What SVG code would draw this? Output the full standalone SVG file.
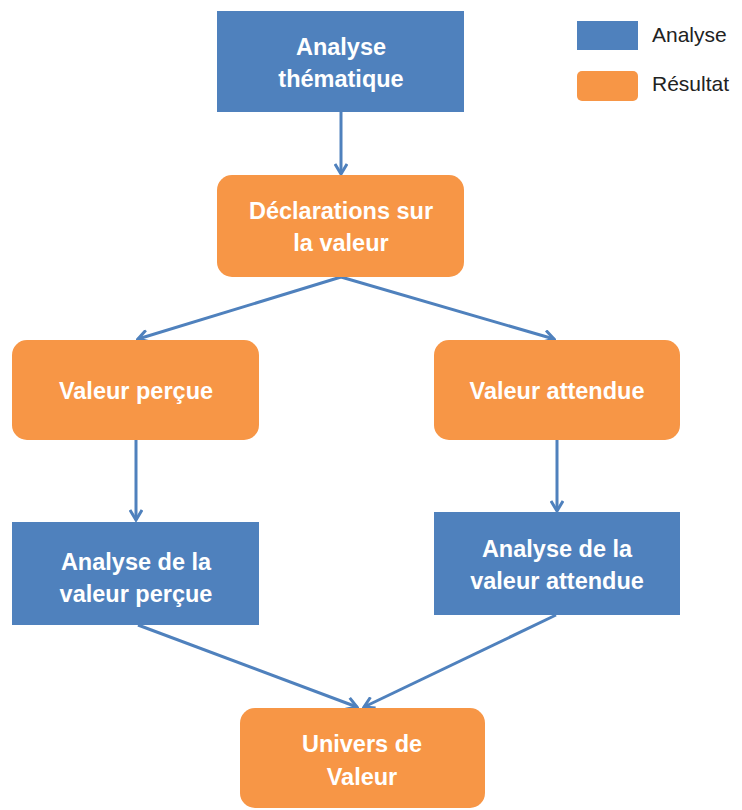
<svg xmlns="http://www.w3.org/2000/svg" width="742" height="810" viewBox="0 0 742 810">
<style>
.a{fill:#4F81BD}
.r{fill:#F79646}
.t{font-family:"Liberation Sans",Arial,sans-serif;font-weight:bold;font-size:23.5px;fill:#fff;text-anchor:middle}
.l{font-family:"Liberation Sans",Arial,sans-serif;font-size:21px;fill:#222}
.c{stroke:#4F81BD;stroke-width:3;fill:none;marker-end:url(#ah)}
</style>
<defs>
<marker id="ah" viewBox="0 0 14 14" refX="12" refY="7" markerWidth="14" markerHeight="14" markerUnits="userSpaceOnUse" orient="auto">
<path d="M2,1 L12,7 L2,13" fill="none" stroke="#4F81BD" stroke-width="3"/>
</marker>
</defs>
<rect width="742" height="810" fill="#fff"/>
<g id="connectors">
<line class="c" x1="341" y1="112" x2="341" y2="174"/>
<line class="c" x1="341" y1="277" x2="138" y2="339"/>
<line class="c" x1="341" y1="277" x2="554" y2="339"/>
<line class="c" x1="136" y1="440" x2="136" y2="520"/>
<line class="c" x1="557" y1="440" x2="557" y2="511"/>
<line class="c" x1="138" y1="625" x2="357" y2="707"/>
<line class="c" x1="556" y1="615" x2="364" y2="707"/>
</g>
<g id="n1"><rect class="a" x="217" y="11" width="247" height="101"/><text class="t" x="341" y="55">Analyse</text><text class="t" x="341" y="87">thématique</text></g>
<g id="n2"><rect class="r" x="217" y="175" width="247" height="102" rx="15"/><text class="t" x="341" y="219">Déclarations sur</text><text class="t" x="341" y="251">la valeur</text></g>
<g id="n3"><rect class="r" x="12" y="340" width="247" height="100" rx="15"/><text class="t" x="136" y="399">Valeur perçue</text></g>
<g id="n4"><rect class="r" x="434" y="340" width="246" height="100" rx="15"/><text class="t" x="557" y="399">Valeur attendue</text></g>
<g id="n5"><rect class="a" x="12" y="522" width="247" height="103"/><text class="t" x="136" y="570">Analyse  de la</text><text class="t" x="136" y="602">valeur perçue</text></g>
<g id="n6"><rect class="a" x="434" y="512" width="246" height="103"/><text class="t" x="557" y="557">Analyse  de la</text><text class="t" x="557" y="589">valeur attendue</text></g>
<g id="n7"><rect class="r" x="240" y="708" width="245" height="100" rx="15"/><text class="t" x="362" y="752">Univers de</text><text class="t" x="362" y="785">Valeur</text></g>
<g id="legend">
<rect class="a" x="577" y="21" width="61" height="29"/><text class="l" x="652" y="42">Analyse</text>
<rect class="r" x="577" y="71" width="61" height="30" rx="5"/><text class="l" x="652" y="91">Résultat</text>
</g>
</svg>
